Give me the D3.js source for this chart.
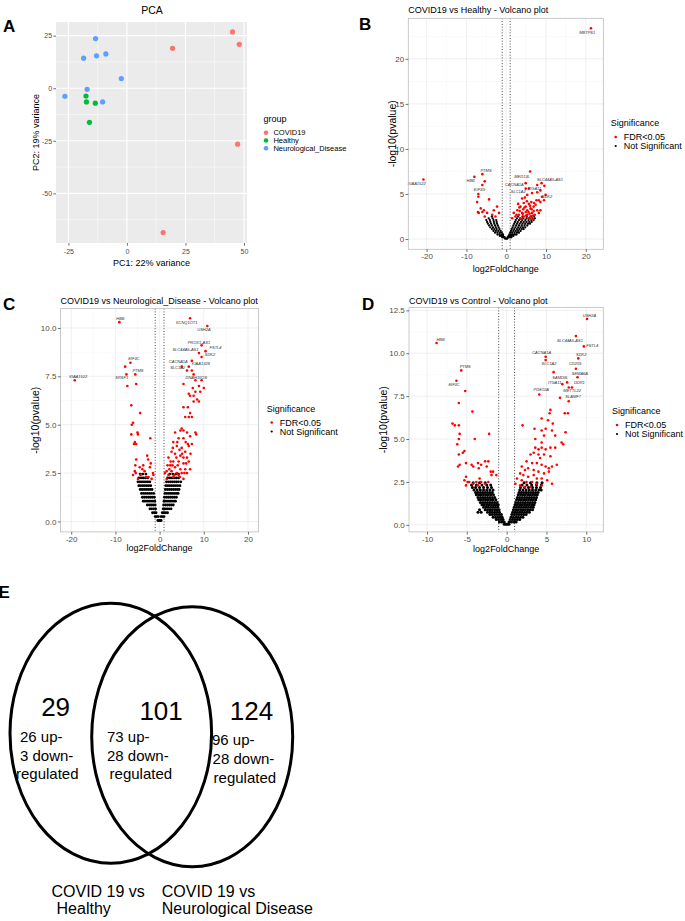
<!DOCTYPE html>
<html>
<head>
<meta charset="utf-8">
<script src="https://cdn.jsdelivr.net/npm/d3@7"></script>
<style>
  body { margin: 0; background: #fff; }
  text { font-family: "Liberation Sans", Arial, sans-serif; }
</style>
</head>
<body>
<div id="chart"></div>
<script>
// ---------- data ----------
let pcaGroups = ["COVID19", "Healthy", "Neurological_Disease"]
let pcaCovid = [[45.1, 26.8], [48.0, 20.9], [19.5, 19.0], [47.3, -26.6], [15.5, -68.6]]
let pcaHealthy = [[-17.5, -3.7], [-17.3, -6.5], [-13.5, -7.1], [-16.0, -16.2]]
let pcaNeuro = [[-13.4, 23.6], [-18.5, 14.3], [-13.0, 15.4], [-9.0, 16.3], [-2.4, 4.6], [-17.0, -0.5], [-26.5, -3.8], [-10.4, -6.5]]
let pcaXTicks = [-25, 0, 25, 50]
let pcaYTicks = [-50, -25, 0, 25]

let fcCut = [-1, 1]
let sigLevels = ["FDR<0.05", "Not Significant"]

// B: COVID19 vs Healthy
let bXTicks = [-20, -10, 0, 10, 20]
let bYTicks = [0, 5, 10, 15, 20]
let bRed = [[21.3, 23.4], [-20.8, 6.6], [-6.0, 7.2], [-8.0, 6.9], [-5.4, 6.4], [-6.0, 6.0], [-7.0, 5.0], [-7.0, 4.7], [-7.3, 4.1], [-4.3, 4.4],
  [-6.4, 3.4], [-5.6, 3.2], [-6.0, 3.0], [-6.9, 2.9], [-4.8, 2.9], [-3.1, 3.2], [-2.3, 3.6], [-3.5, 2.7], [-2.7, 2.5], [-1.8, 2.9], [-5.4, 2.5], [-7.1, 3.0],
  [6.0, 7.5], [4.9, 6.2], [7.8, 6.0], [8.9, 6.2], [9.6, 5.9], [8.6, 5.4], [5.7, 5.6], [4.9, 5.6], [5.3, 4.9], [6.5, 5.1], [4.0, 4.5],
  [9.0, 4.7], [9.5, 4.3], [8.6, 4.1], [9.9, 4.9], [8.2, 4.3], [2.8, 3.2], [3.6, 3.6], [4.4, 4.0], [4.9, 3.6], [5.3, 3.2], [5.7, 3.9],
  [6.1, 3.4], [6.5, 2.9], [6.9, 3.6], [4.0, 2.9], [3.2, 2.7], [4.4, 2.5], [5.3, 2.7], [6.1, 2.5], [6.9, 3.1], [7.8, 3.2], [8.2, 2.9],
  [7.4, 3.8], [1.9, 2.9], [2.3, 2.5], [1.5, 2.3], [7.6, 4.3], [4.9, 3.0], [5.7, 2.3], [3.6, 2.3], [4.3, 3.3], [6.3, 4.1], [7.2, 2.7],
  [8.6, 3.2], [7.8, 5.2], [3.0, 3.9], [3.4, 3.1], [4.6, 3.5], [5.0, 2.6], [5.6, 3.0], [6.0, 3.7], [6.4, 3.3], [6.8, 2.6], [7.0, 4.0],
  [5.2, 4.2], [4.7, 4.6], [3.8, 2.2], [4.2, 2.8], [5.9, 2.8], [6.6, 2.2], [2.6, 2.7], [3.3, 3.5]]
// black cloud, rows of [-log10 p, [log2FC ...]]
let bBlack = [
  [0.05, [-0.3, -0.1, 0.1, 0.3]],
  [0.2, [-1.0, -0.7, -0.4, 0.4, 0.7, 1.0, 1.3]],
  [0.35, [-1.6, -1.2, -0.8, 0.6, 1.0, 1.4, 1.8]],
  [0.5, [-2.2, -1.7, -1.2, -0.8, 0.8, 1.2, 1.7, 2.2, 2.6]],
  [0.7, [-2.8, -2.2, -1.6, -1.1, 1.0, 1.5, 2.1, 2.7, 3.2]],
  [0.9, [-3.2, -2.6, -2.0, -1.4, 1.2, 1.8, 2.4, 3.0, 3.6]],
  [1.1, [-3.6, -3.0, -2.4, -1.7, 1.4, 2.0, 2.7, 3.3, 3.9, 4.4]],
  [1.3, [-4.0, -3.3, -2.6, -1.9, 1.6, 2.3, 3.0, 3.6, 4.2, 4.8]],
  [1.5, [-4.3, -3.6, -2.8, -2.1, 1.8, 2.5, 3.2, 3.9, 4.6, 5.3]],
  [1.7, [-4.6, -3.8, -3.0, -2.3, 2.0, 2.7, 3.4, 4.1, 4.8, 5.5, 6.0]],
  [1.9, [-4.8, -4.0, -3.1, -2.4, 2.2, 2.9, 3.7, 4.4, 5.1, 5.8, 6.4]],
  [2.1, [-5.0, -4.1, -3.2, -2.5, 2.4, 3.2, 4.0, 4.8, 5.6, 6.3, 6.9]],
  [2.3, [-4.4, -3.4, 2.7, 3.5, 4.3, 5.1, 5.9, 6.6, 7.2]],
  [2.5, [-3.6, 3.0, 4.1, 5.2, 6.3, 7.0]]
]
let bGenes = [["MBTPS1", 21.3, 23.4], ["KIAA1522", -20.8, 6.6], ["PTMS", -6.0, 7.2], ["HBB", -8.0, 6.9], ["EIF3G", -7.0, 5.0],
  ["MED13L", 6.0, 7.5], ["CACNA1A", 4.9, 6.2], ["SLC44A5-AS1", 8.9, 6.2], ["ITGA11", 7.8, 6.0], ["SLC1A2", 5.3, 4.9], ["SDK2", 9.0, 4.7]]

// C: COVID19 vs Neurological_Disease
let cXTicks = [-20, -10, 0, 10, 20]
let cYTicks = [0, 2.5, 5, 7.5, 10]
let cRed = [[-9.1, 10.3], [6.9, 10.5], [10.8, 10.1], [9.5, 9.1], [10.4, 8.8], [8.9, 8.7], [9.5, 8.5], [7.3, 8.3], [5.0, 8.0], [6.6, 8.0],
  [7.3, 7.8], [6.2, 7.8], [7.7, 7.6], [5.4, 7.1], [-6.6, 8.2], [-7.8, 8.0], [-7.5, 7.6], [-5.5, 7.6], [-7.3, 7.0], [-5.3, 7.1], [-19.2, 7.3],
  [-6.4, 6.0], [-4.4, 5.6], [-6.0, 5.1], [-6.3, 5.0], [-6.4, 4.5], [-4.9, 4.5], [-5.0, 4.6], [-5.6, 4.1], [-5.8, 4.0], [-5.3, 4.0], [-2.1, 4.3],
  [-5.3, 3.2], [-5.5, 2.9], [-5.6, 2.6], [-5.4, 2.5], [-2.8, 3.4], [-2.6, 3.2], [-3.7, 2.9], [-4.5, 2.8], [-3.4, 2.6], [-2.2, 2.8], [-1.5, 2.5],
  [-4.3, 2.4], [-3.0, 2.3], [-1.8, 2.2], [-4.9, 2.2], [-6.0, 2.4], [-1.4, 2.4], [-2.5, 2.3], [-3.9, 2.7], [-2.0, 3.0],
  [7.5, 6.9], [8.1, 7.3], [8.9, 7.0], [10.0, 6.9], [9.5, 7.3], [8.1, 6.7], [9.2, 6.7], [7.7, 6.5], [6.9, 6.5], [8.5, 6.3], [8.9, 6.2],
  [6.6, 6.6], [6.4, 5.9], [5.4, 5.9], [7.7, 6.2], [5.8, 5.4], [6.6, 5.4], [7.3, 5.4], [6.9, 5.6],
  [5.0, 4.8], [4.7, 4.7], [5.4, 4.7], [3.5, 4.6], [6.2, 4.6], [6.9, 4.4], [8.1, 4.6], [8.3, 4.5], [4.3, 4.3], [5.4, 4.3], [7.3, 4.0],
  [6.6, 3.9], [3.1, 4.1], [3.9, 3.9], [5.0, 3.8], [5.8, 3.6], [2.7, 3.6], [3.5, 3.5], [4.7, 3.4], [5.4, 3.3], [6.2, 3.3], [2.0, 3.3],
  [3.1, 3.1], [4.3, 3.1], [5.4, 3.0], [6.6, 3.1], [2.4, 2.9], [3.5, 2.8], [4.7, 2.7], [5.8, 2.7], [1.6, 2.6], [2.7, 2.6], [3.9, 2.5],
  [5.0, 2.5], [6.2, 2.5], [2.0, 2.4], [3.1, 2.3], [4.3, 2.4], [5.4, 2.2], [1.6, 2.2], [6.9, 2.7], [1.2, 2.5],
  [4.0, 4.1], [4.5, 3.7], [3.0, 3.8], [5.9, 4.1], [6.0, 3.0], [4.1, 2.9], [2.9, 2.9], [3.3, 2.4], [4.6, 2.3], [5.6, 2.5], [2.2, 2.7],
  [3.8, 3.3], [5.1, 3.5], [6.4, 4.0], [7.0, 3.5], [1.8, 2.9], [2.5, 3.1]]
let cBlack = [
  [0.05, [-0.4, -0.15, 0.1, 0.35]],
  [0.25, [-1.0, -0.65, -0.3, 0.3, 0.65, 1.0]],
  [0.45, [-1.6, -1.2, -0.8, 0.6, 1.0, 1.4, 1.8]],
  [0.65, [-2.2, -1.8, -1.35, -0.9, 0.8, 1.25, 1.7, 2.15, 2.6]],
  [0.85, [-2.8, -2.35, -1.9, -1.45, -1.0, 0.9, 1.35, 1.8, 2.25, 2.7, 3.1]],
  [1.05, [-3.7, -3.3, -2.85, -2.4, -1.95, -1.5, -1.1, 1.0, 1.45, 1.9, 2.35, 2.8, 3.25, 3.6]],
  [1.25, [-3.9, -3.45, -3.0, -2.55, -2.1, -1.65, -1.2, 1.1, 1.55, 2.0, 2.45, 2.9, 3.35, 3.8]],
  [1.45, [-4.1, -3.65, -3.2, -2.75, -2.3, -1.85, -1.35, 1.2, 1.65, 2.1, 2.55, 3.0, 3.45, 3.9, 4.2]],
  [1.65, [-4.4, -3.95, -3.5, -3.05, -2.6, -2.15, -1.7, 1.3, 1.75, 2.2, 2.65, 3.1, 3.55, 4.0, 4.4]],
  [1.85, [-4.7, -4.25, -3.8, -3.35, -2.9, -2.45, -2.0, 1.4, 1.85, 2.3, 2.75, 3.2, 3.65, 4.1, 4.6]],
  [2.05, [-4.9, -4.45, -4.0, -3.55, -3.1, -2.65, -2.2, 1.55, 2.0, 2.45, 2.9, 3.35, 3.8, 4.25, 4.8]],
  [2.25, [-4.7, -4.2, -3.7, -3.2, -2.7, 1.8, 2.3, 2.8, 3.3, 3.8, 4.3]],
  [2.45, [-4.4, -3.8, -3.1, 2.3, 3.0, 3.7, 4.3]]
]
let cGenes = [["HBB", -9.1, 10.3], ["KCNQ1OT1", 6.9, 10.5], ["USH2A", 10.8, 10.1], ["PROX1-AS1", 9.5, 9.1], ["FSTL4", 10.4, 8.8],
  ["SLC44A5-AS1", 8.9, 8.7], ["SDK2", 9.5, 8.5], ["CACNA1A", 5.0, 8.0], ["KIAA1328", 7.3, 8.3], ["SLC1A2", 6.2, 7.8],
  ["DNAH10OS", 7.7, 7.6], ["EIF3C", -6.6, 8.2], ["PTMS", -5.5, 7.6], ["SRSF1", -7.5, 7.6], ["KIAA1522", -19.2, 7.3]]

// D: COVID19 vs Control
let dXTicks = [-10, -5, 0, 5, 10]
let dYTicks = [0, 2.5, 5, 7.5, 10, 12.5]
let dRed = [[10.1, 12.0], [8.7, 11.0], [9.7, 10.4], [-8.8, 10.6], [4.9, 9.8], [4.9, 9.6], [9.0, 9.7], [8.7, 9.1], [5.9, 8.9], [8.9, 8.6],
  [7.6, 8.3], [8.2, 8.0], [7.0, 8.2], [7.8, 8.0], [4.1, 7.6], [6.7, 7.4], [7.8, 7.2], [-5.7, 9.0], [-6.3, 8.4], [-5.2, 7.8], [-6.0, 7.1],
  [-4.3, 6.6], [-6.8, 5.9], [-6.5, 5.8], [-6.0, 5.8], [-5.9, 5.3], [-4.0, 5.0], [-2.2, 5.3], [-6.0, 5.0], [-6.2, 4.7], [-5.3, 4.3],
  [-5.5, 4.2], [-6.0, 4.1], [-5.1, 3.6], [-6.1, 3.4], [-5.9, 3.5], [-4.4, 3.5], [-4.2, 3.4], [-3.6, 3.6], [-2.7, 3.7], [-2.3, 3.7],
  [-3.2, 3.5], [-3.5, 3.3], [-2.5, 3.4], [-2.0, 3.1], [-1.7, 3.1], [-5.1, 2.8], [-4.9, 2.5], [-4.7, 2.5], [-5.1, 2.3], [-4.2, 2.4],
  [-3.8, 2.5], [-3.6, 2.3], [-3.2, 2.5], [-2.7, 2.4], [-2.3, 2.5], [-1.9, 2.9], [-1.3, 2.9], [-3.4, 2.7], [-5.3, 2.6],
  [2.0, 5.8], [3.5, 5.6], [4.4, 6.2], [5.5, 6.7], [5.4, 6.5], [5.2, 6.1], [5.8, 5.9], [4.9, 5.6], [4.4, 5.5], [4.7, 5.2], [5.7, 5.5],
  [6.1, 5.2], [7.3, 6.5], [7.7, 6.5], [7.4, 5.4], [7.1, 4.7], [6.9, 4.8], [6.1, 4.5], [5.5, 4.5], [4.9, 4.4], [4.4, 4.5], [4.0, 4.4],
  [3.6, 4.5], [3.4, 4.2], [3.0, 4.1], [4.0, 4.1], [4.7, 4.1], [5.5, 4.0], [4.4, 4.8], [3.6, 5.0], [4.2, 3.9], [2.5, 3.7], [3.2, 3.6],
  [3.8, 3.6], [4.4, 3.5], [4.9, 3.4], [5.3, 3.3], [5.7, 3.4], [6.3, 3.5], [1.9, 3.4], [2.3, 3.2], [2.7, 3.3], [3.4, 3.2], [4.0, 3.1],
  [4.7, 3.0], [5.3, 3.1], [1.7, 3.0], [2.1, 2.9], [2.7, 2.8], [3.4, 2.9], [3.8, 2.7], [4.4, 2.7], [5.1, 2.6], [5.7, 2.4], [1.3, 2.7],
  [1.9, 2.6], [2.5, 2.5], [3.2, 2.5], [3.8, 2.4], [4.4, 2.3], [1.1, 2.4], [1.7, 2.3], [2.3, 2.2], [3.0, 2.2]]
let dBlack = [
  [0.04, [-0.3, -0.1, 0.1, 0.3]],
  [0.17, [-0.9, -0.6, -0.3, 0.3, 0.6, 0.9, 1.2]],
  [0.31, [-1.3, -1.0, -0.7, -0.45, 0.45, 0.75, 1.05, 1.35, 1.65]],
  [0.45, [-1.7, -1.4, -1.1, -0.8, -0.55, 0.55, 0.85, 1.15, 1.45, 1.75, 2.05]],
  [0.6, [-2.1, -1.8, -1.5, -1.2, -0.9, -0.65, 0.65, 0.95, 1.25, 1.55, 1.85, 2.15, 2.45]],
  [0.74, [-3.6, -3.2, -2.4, -2.1, -1.8, -1.5, -1.2, -0.9, 0.75, 1.05, 1.35, 1.65, 1.95, 2.25, 2.55, 2.85]],
  [0.88, [-3.4, -2.7, -2.4, -2.1, -1.8, -1.5, -1.2, -0.95, 0.85, 1.15, 1.45, 1.75, 2.05, 2.35, 2.65, 2.95, 3.25]],
  [1.02, [-2.9, -2.6, -2.3, -2.0, -1.7, -1.4, -1.1, 0.95, 1.25, 1.55, 1.85, 2.15, 2.45, 2.75, 3.05, 3.35]],
  [1.17, [-3.1, -2.8, -2.5, -2.2, -1.9, -1.6, -1.3, -1.05, 1.05, 1.35, 1.65, 1.95, 2.25, 2.55, 2.85, 3.15, 3.45]],
  [1.31, [-3.3, -3.0, -2.7, -2.4, -2.1, -1.8, -1.5, -1.2, 1.15, 1.45, 1.75, 2.05, 2.35, 2.65, 2.95, 3.25, 3.55]],
  [1.46, [-3.5, -3.2, -2.9, -2.6, -2.3, -2.0, -1.7, -1.35, 1.25, 1.55, 1.85, 2.15, 2.45, 2.75, 3.05, 3.35, 3.65]],
  [1.6, [-3.6, -3.3, -3.0, -2.7, -2.4, -2.1, -1.8, -1.5, 1.35, 1.65, 1.95, 2.25, 2.55, 2.85, 3.15, 3.45, 3.75]],
  [1.75, [-3.8, -3.5, -3.2, -2.9, -2.6, -2.3, -2.0, -1.65, 1.45, 1.75, 2.05, 2.35, 2.65, 2.95, 3.25, 3.55, 3.85]],
  [1.89, [-3.9, -3.6, -3.3, -3.0, -2.7, -2.4, -2.1, -1.8, 1.55, 1.85, 2.15, 2.45, 2.75, 3.05, 3.35, 3.65, 3.95]],
  [2.03, [-4.1, -3.7, -3.3, -2.9, -2.5, -2.1, -1.7, 1.65, 2.05, 2.45, 2.85, 3.25, 3.65, 4.05, 4.35]],
  [2.18, [-4.3, -3.9, -3.4, -2.9, -2.4, -1.9, 1.75, 2.25, 2.75, 3.25, 3.75, 4.25]],
  [2.32, [-4.4, -3.8, -3.1, -2.5, -2.0, 1.95, 2.55, 3.15, 3.75, 4.35]],
  [2.46, [-4.2, -3.4, -2.7, 2.2, 3.0, 3.8, 4.45]]
]
let dGenes = [["USH2A", 10.1, 12.0], ["SLC44A5-AS1", 8.7, 11.0], ["FSTL4", 9.7, 10.4], ["HBB", -8.8, 10.6], ["CACNA1A", 4.9, 9.8],
  ["SLC1A2", 4.9, 9.6], ["SDK2", 9.0, 9.7], ["CD209", 8.7, 9.1], ["SEMA6A", 8.9, 8.6], ["SAMD9L", 5.9, 8.9], ["ITGA11", 7.0, 8.2],
  ["DDR1", 8.2, 8.0], ["METTL22", 7.8, 8.0], ["PDE10A", 4.1, 7.6], ["SLAMF7", 7.8, 7.2], ["PTMS", -5.7, 9.0], ["EIF3C", -6.3, 8.4]]

// E: Venn
let vennTotals = [29, 101, 124]
let vennUp = [26, 73, 96]
let vennDown = [3, 28, 28]
let vennSets = [["COVID 19 vs", "Healthy"], ["COVID 19 vs", "Neurological Disease"]]

// ---------- layout (pixel nudges for gene labels) ----------
let nudgeB = { MBTPS1: [-3.7, 4.5], KIAA1522: [-6.7, 4], PTMS: [3.7, -3], HBB: [-3.7, 4], EIF3G: [1.3, -4.4], MED13L: [-8, 5.7],
  CACNA1A: [-11.4, 1.7], "SLC44A5-AS1": [8.4, -3], ITGA11: [-2.7, 3.7], SLC1A2: [-9, -2.7], SDK2: [5, 0.7] }
let nudgeC = { HBB: [1, -3.4], KCNQ1OT1: [-3.4, 4.4], USH2A: [-3.4, 3.7], "PROX1-AS1": [-2.7, -2.7], FSTL4: [10, -3],
  "SLC44A5-AS1": [-13.5, -3.4], SDK2: [8.4, -1.7], CACNA1A: [-3.4, -4.4], KIAA1328: [9, 3.4], SLC1A2: [-9.4, -2.4],
  DNAH10OS: [2.7, 3.4], EIF3C: [3.4, -3.4], PTMS: [2.7, -3.4], SRSF1: [-4.7, 4], KIAA1522: [3.4, -3] }
let nudgeD = { USH2A: [2.4, -3.4], "SLC44A5-AS1": [-6, 4.4], FSTL4: [8.4, 0], HBB: [4, -3.4], CACNA1A: [-4, -4], SLC1A2: [3.4, 3.7],
  SDK2: [3, -3.7], CD209: [-1, -4.7], SEMA6A: [2.4, -3.4], SAMD9L: [6.7, 5.4], ITGA11: [-7.7, -1.7], DDR1: [7.4, -4.4],
  METTL22: [3.4, 3], PDE10A: [2, -4.4], SLAMF7: [4.4, -4], PTMS: [4, -3.4], EIF3C: [-2.4, 4] }

let width = 685, height = 921
let svg = d3.select("#chart")
  .append("svg")
  .attr("width", width)
  .attr("height", height)
svg.append("rect").attr("width", width).attr("height", height).attr("fill", "#fff")

let fontFam = '"Liberation Sans", Arial, sans-serif'

function minorOf(ticks, dom) {
  let step = ticks[1] - ticks[0], out = []
  for (let v = ticks[0] - step / 2; v <= ticks[ticks.length - 1] + step / 2 + 1e-9; v += step)
    if (v >= dom[0] && v <= dom[1]) out.push(v)
  return out
}

function grid(g, x, y, box, xt, yt, col, wMaj, wMin, minCol) {
  let xd = x.domain(), yd = y.domain()
  g.selectAll(null).data(minorOf(xt, xd)).enter().append("line")
    .attr("x1", d => x(d)).attr("x2", d => x(d)).attr("y1", box.y0).attr("y2", box.y1)
    .attr("stroke", minCol).attr("stroke-width", wMin)
  g.selectAll(null).data(minorOf(yt, yd)).enter().append("line")
    .attr("y1", d => y(d)).attr("y2", d => y(d)).attr("x1", box.x0).attr("x2", box.x1)
    .attr("stroke", minCol).attr("stroke-width", wMin)
  g.selectAll(null).data(xt).enter().append("line")
    .attr("x1", d => x(d)).attr("x2", d => x(d)).attr("y1", box.y0).attr("y2", box.y1)
    .attr("stroke", col).attr("stroke-width", wMaj)
  g.selectAll(null).data(yt).enter().append("line")
    .attr("y1", d => y(d)).attr("y2", d => y(d)).attr("x1", box.x0).attr("x2", box.x1)
    .attr("stroke", col).attr("stroke-width", wMaj)
}

function axes(g, x, y, box, xt, yt, fmtX, fmtY, fs, padX, padY) {
  let ax = g.append("g").attr("transform", "translate(0," + box.y1 + ")")
    .call(d3.axisBottom(x).tickValues(xt).tickFormat(fmtX).tickSize(2.7).tickPadding(padX))
  let ay = g.append("g").attr("transform", "translate(" + box.x0 + ",0)")
    .call(d3.axisLeft(y).tickValues(yt).tickFormat(fmtY).tickSize(2.7).tickPadding(padY))
  for (let a of [ax, ay]) {
    a.attr("font-family", fontFam).attr("font-size", fs)
    a.select(".domain").remove()
    a.selectAll(".tick line").attr("stroke", "#333").attr("stroke-width", 0.7)
    a.selectAll(".tick text").attr("fill", "#4D4D4D")
  }
}

function panelLetter(t, x, y) {
  svg.append("text").attr("x", x).attr("y", y).attr("font-size", 17).attr("font-weight", "bold")
    .attr("fill", "#000").text(t)
}

// ---------- A: PCA ----------
let pBox = { x0: 56, x1: 247, y0: 22, y1: 243 }
let px = d3.scaleLinear().domain([-30.3, 51.3]).range([pBox.x0, pBox.x1])
let py = d3.scaleLinear().domain([-73.6, 31.5]).range([pBox.y1, pBox.y0])
let pColor = d3.scaleOrdinal().domain(pcaGroups).range(["#F8766D", "#00BA38", "#619CFF"])
let gA = svg.append("g")
gA.append("rect").attr("x", pBox.x0).attr("y", pBox.y0).attr("width", pBox.x1 - pBox.x0)
  .attr("height", pBox.y1 - pBox.y0).attr("fill", "#EBEBEB")
grid(gA, px, py, pBox, pcaXTicks, pcaYTicks, "#fff", 1.1, 0.5, "#fff")
let pcaPts = [[pcaGroups[0], pcaCovid], [pcaGroups[1], pcaHealthy], [pcaGroups[2], pcaNeuro]]
  .flatMap(([grp, arr]) => arr.map(d => ({ grp: grp, x: d[0], y: d[1] })))
gA.selectAll("circle.pca").data(pcaPts).enter().append("circle")
  .attr("cx", d => px(d.x)).attr("cy", d => py(d.y)).attr("r", 2.6)
  .attr("fill", d => pColor(d.grp))
axes(gA, px, py, pBox, pcaXTicks, pcaYTicks, d => String(d), d => String(d), 7, 3, 1.2)
gA.append("text").attr("x", 152).attr("y", 14).attr("text-anchor", "middle").attr("font-size", 10.5).text("PCA")
gA.append("text").attr("x", (pBox.x0 + pBox.x1) / 2).attr("y", 266).attr("text-anchor", "middle")
  .attr("font-size", 9).text("PC1: 22% variance")
gA.append("text").attr("transform", "translate(38.5," + ((pBox.y0 + pBox.y1) / 2) + ") rotate(-90)")
  .attr("text-anchor", "middle").attr("font-size", 9).text("PC2: 19% variance")
gA.append("text").attr("x", 263.6).attr("y", 122).attr("font-size", 9).text("group")
pcaGroups.forEach((grp, i) => {
  let yy = 135.3 + i * 7.75
  gA.append("circle").attr("cx", 266).attr("cy", yy - 2.6).attr("r", 2.3).attr("fill", pColor(grp))
  gA.append("text").attr("x", 273.4).attr("y", yy).attr("font-size", 7.5).text(grp)
})
panelLetter("A", 3, 32)

// ---------- volcano panels ----------
function volcano(p) {
  let b = p.box
  let x = d3.scaleLinear().domain(p.xDom).range([b.x0, b.x1])
  let y = d3.scaleLinear().domain(p.yDom).range([b.y1, b.y0])
  let g = svg.append("g")
  g.append("rect").attr("x", b.x0).attr("y", b.y0).attr("width", b.x1 - b.x0).attr("height", b.y1 - b.y0).attr("fill", "#fff")
  grid(g, x, y, b, p.xTicks, p.yTicks, "#EBEBEB", 0.8, 0.4, "#F3F3F3")

  g.selectAll("line.cut").data(fcCut).enter().append("line")
    .attr("x1", d => x(d)).attr("x2", d => x(d)).attr("y1", b.y0).attr("y2", b.y1)
    .attr("stroke", "#333").attr("stroke-width", 0.9).attr("stroke-dasharray", "1,1.8")

  let blackPts = p.black.flatMap(([yy, xs]) => xs.map(xx => [xx, yy]))
  g.append("g").selectAll("circle").data(blackPts).enter().append("circle")
    .attr("cx", d => x(d[0])).attr("cy", d => y(d[1])).attr("r", p.blackR).attr("fill", "#000")
  g.append("g").selectAll("circle").data(p.red).enter().append("circle")
    .attr("cx", d => x(d[0])).attr("cy", d => y(d[1])).attr("r", 1.3).attr("fill", "#FF0000")

  g.append("g").selectAll("text").data(p.genes).enter().append("text")
    .attr("x", d => x(d[1]) + p.nudge[d[0]][0])
    .attr("y", d => y(d[2]) + p.nudge[d[0]][1])
    .attr("text-anchor", "middle").attr("dominant-baseline", "middle")
    .attr("font-size", 4).attr("font-style", "italic").attr("fill", "#333")
    .text(d => d[0])

  g.append("rect").attr("x", b.x0).attr("y", b.y0).attr("width", b.x1 - b.x0).attr("height", b.y1 - b.y0)
    .attr("fill", "none").attr("stroke", "#BDBDBD").attr("stroke-width", 0.8)

  axes(g, x, y, b, p.xTicks, p.yTicks, d => String(d), p.yFmt, 8, 1.5, 1.5)

  g.append("text").attr("x", b.x0).attr("y", p.titleY).attr("font-size", 9).text(p.title)
  g.append("text").attr("x", (b.x0 + b.x1) / 2).attr("y", p.xLabY).attr("text-anchor", "middle")
    .attr("font-size", 9).text("log2FoldChange")
  g.append("text").attr("transform", "translate(" + p.yLabX + "," + ((b.y0 + b.y1) / 2) + ") rotate(-90)")
    .attr("text-anchor", "middle").attr("font-size", 10.5).text("-log10(pvalue)")

  let lg = p.legend
  g.append("text").attr("x", lg.x).attr("y", lg.y).attr("font-size", 9).text("Significance")
  sigLevels.forEach((s, i) => {
    let yy = lg.y + 14 + i * 9
    g.append("circle").attr("cx", lg.x + 5).attr("cy", yy - 3).attr("r", i === 0 ? 1.3 : 1.1)
      .attr("fill", i === 0 ? "#FF0000" : "#000")
    g.append("text").attr("x", lg.x + 13).attr("y", yy).attr("font-size", 9).text(s)
  })
}

volcano({
  box: { x0: 408.3, x1: 603.3, y0: 18.3, y1: 249.3 }, xDom: [-24.6, 24.4], yDom: [-1.14, 24.5],
  xTicks: bXTicks, yTicks: bYTicks, yFmt: d => String(d),
  red: bRed, black: bBlack, genes: bGenes, nudge: nudgeB, blackR: 1.15,
  title: "COVID19 vs Healthy - Volcano plot", titleY: 13, xLabY: 272, yLabX: 395.5,
  legend: { x: 610.7, y: 126 }
})
volcano({
  box: { x0: 60.6, x1: 258.6, y0: 308.6, y1: 531.9 }, xDom: [-22.4, 22.4], yDom: [-0.54, 11.0],
  xTicks: cXTicks, yTicks: cYTicks, yFmt: d => d.toFixed(1),
  red: cRed, black: cBlack, genes: cGenes, nudge: nudgeC, blackR: 1.4,
  title: "COVID19 vs Neurological_Disease - Volcano plot", titleY: 303.6, xLabY: 550.5, yLabX: 39,
  legend: { x: 266.7, y: 411.5 }
})
volcano({
  box: { x0: 409, x1: 603.3, y0: 307.6, y1: 531.9 }, xDom: [-12.26, 12.14], yDom: [-0.41, 12.66],
  xTicks: dXTicks, yTicks: dYTicks, yFmt: d => d.toFixed(1),
  red: dRed, black: dBlack, genes: dGenes, nudge: nudgeD, blackR: 1.5,
  title: "COVID19 vs Control - Volcano plot", titleY: 303.6, xLabY: 552, yLabX: 387.3,
  legend: { x: 612, y: 414 }
})
panelLetter("B", 359, 29.5)
panelLetter("C", 3, 310)
panelLetter("D", 362, 309.6)

// ---------- E: Venn ----------
let gE = svg.append("g")
let ellipses = [{ cx: 110.8, cy: 733.3, rx: 100.8, ry: 130 }, { cx: 192.2, cy: 736.7, rx: 100.5, ry: 130 }]
gE.selectAll("ellipse").data(ellipses).enter().append("ellipse")
  .attr("cx", d => d.cx).attr("cy", d => d.cy).attr("rx", d => d.rx).attr("ry", d => d.ry)
  .attr("fill", "none").attr("stroke", "#000").attr("stroke-width", 3)

let vennFont = '"Open Sans", "Noto Sans", sans-serif'
let totalPos = [[55.6, 716.2], [161.1, 719.5], [251.5, 719.5]]
let linePos = [[[20, 741.8], [20, 761], [16, 778.7]], [[107, 741.8], [107, 761], [109.6, 778.7]], [[212, 745], [212.6, 764.4], [213.6, 782.7]]]
vennTotals.forEach((v, i) => {
  gE.append("text").attr("x", totalPos[i][0]).attr("y", totalPos[i][1]).attr("text-anchor", "middle")
    .attr("font-family", vennFont).attr("font-size", 26).text(v)
  let lines = [vennUp[i] + " up-", vennDown[i] + " down-", "regulated"]
  lines.forEach((t, j) => {
    gE.append("text").attr("x", linePos[i][j][0]).attr("y", linePos[i][j][1])
      .attr("font-family", vennFont).attr("font-size", 15).text(t)
  })
})
let setPos = [[[51.5, 897.3], [83.7, 914, "middle"]], [[161.8, 897.3], [161.8, 914]]]
vennSets.forEach((s, i) => {
  gE.append("text").attr("x", setPos[i][0][0]).attr("y", setPos[i][0][1]).attr("font-size", 16).text(s[0])
  gE.append("text").attr("x", setPos[i][1][0]).attr("y", setPos[i][1][1]).attr("font-size", 16)
    .attr("text-anchor", setPos[i][1][2] || "start").text(s[1])
})
panelLetter("E", -1.5, 598.3)
</script>
</body>
</html>
